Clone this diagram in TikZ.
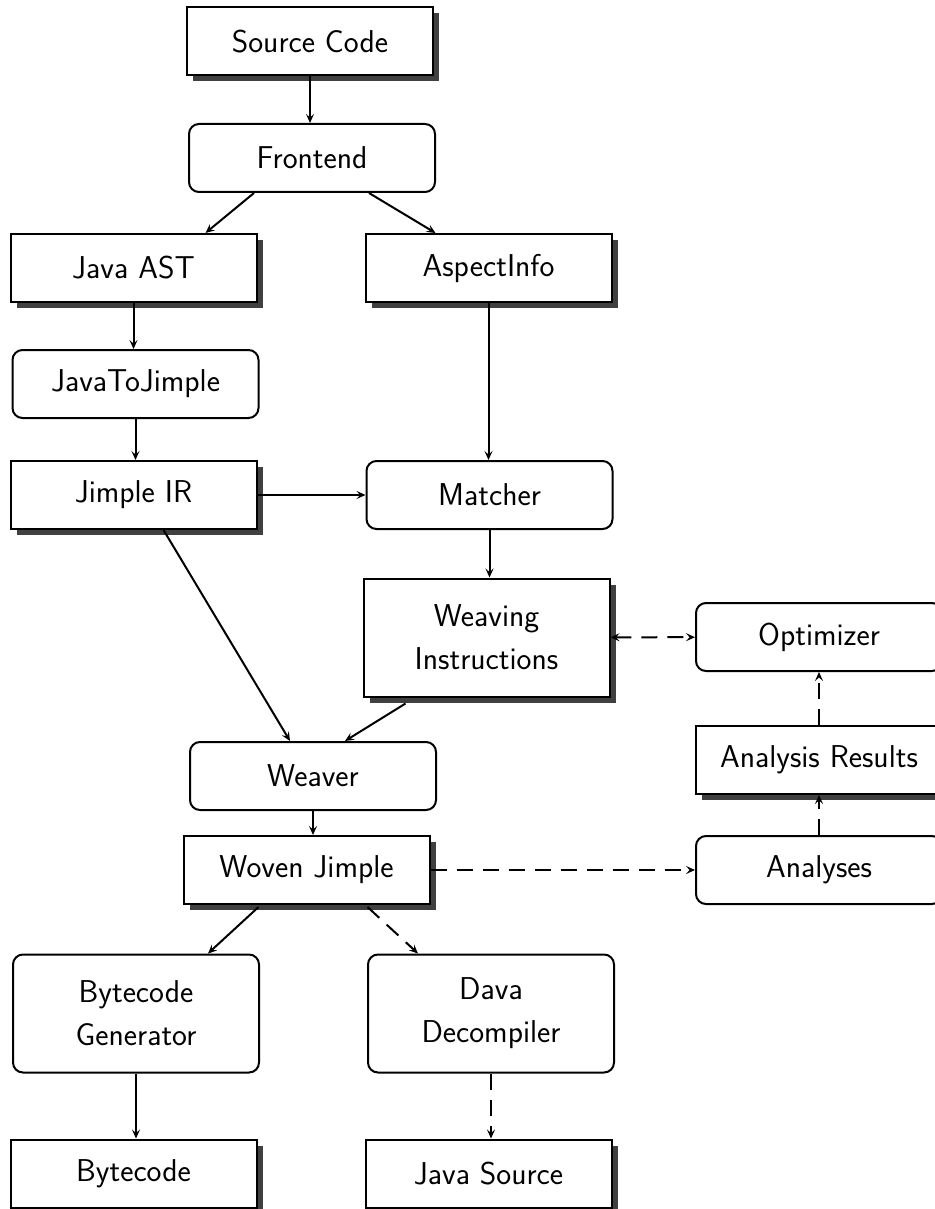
\documentclass[tikz,border=0pt]{standalone}
\usepackage{fontspec}
\usetikzlibrary{shadows,arrows.meta}
\begin{document}
\begin{tikzpicture}[x=0.5pt,y=-0.5pt,
  font=\sffamily\fontsize{15.8}{21.5}\selectfont,
  >={Stealth[length=4.5pt,width=4pt,inset=1.8pt]},
  base/.style={draw, line width=1pt, fill=white, minimum width=123pt,
    minimum height=34pt, align=center, inner sep=4pt},
  data/.style={base, drop shadow={shadow xshift=3pt, shadow yshift=-3pt,
    fill=black!75, opacity=1}},
  proc/.style={base, rounded corners=5pt},
  tall/.style={minimum height=59pt},
  flow/.style={->, line width=1pt},
  dflow/.style={flow, dash pattern=on 8pt off 5pt}]
\useasboundingbox (0,0) rectangle (934,1209);

% left/middle stages of the pipeline
\node[data] (src)    at (310,41.5)    {Source Code};
\node[proc] (front)  at (312,158)     {Frontend};
\node[data] (jast)   at (133.5,268)   {Java AST};
\node[data] (aspect) at (488.5,268)   {AspectInfo};
\node[proc] (j2j)    at (135.5,384)   {JavaToJimple};
\node[data] (jir)    at (133.5,495)   {Jimple IR};
\node[proc] (match)  at (489.5,495)   {Matcher};
\node[data,tall] (weave) at (486.5,637.5) {Weaving\\Instructions};
\node[proc] (weaver) at (313,776)     {Weaver};
\node[data] (woven)  at (306.5,870)   {Woven Jimple};
\node[proc,tall] (bgen) at (136,1013.5) {Bytecode\\Generator};
\node[proc,tall] (dava) at (491,1013.5) {Dava\\Decompiler};
\node[data] (bc)     at (133.5,1173.5) {Bytecode};
\node[data] (jsrc)   at (488.5,1173.5) {Java Source};

% analysis column on the right
\node[proc] (opt)  at (819,637) {Optimizer};
\node[data] (ares) at (819,760) {Analysis Results};
\node[proc] (anal) at (819,870) {Analyses};

% connectors (vertical ones run straight down from the source node)
\draw[flow] (src.south) -- (src.south |- front.north);
\draw[flow] ([xshift=-29pt]front.south) -- ([xshift=36pt]jast.north);
\draw[flow] ([xshift=28.5pt]front.south) -- ([xshift=-26.5pt]aspect.north);
\draw[flow] (jast.south) -- (jast.south |- j2j.north);
\draw[flow] (j2j.south) -- (j2j.south |- jir.north);
\draw[flow] (jir) -- (match);
\draw[flow] (aspect.south) -- (aspect.south |- match.north);
\draw[flow] (match.south) -- (match.south |- weave.north);
\draw[flow] ([xshift=15pt]jir.south) -- ([xshift=-11.5pt]weaver.north);
\draw[flow] ([xshift=-40.5pt,yshift=-3pt]weave.south) -- ([xshift=16pt]weaver.north);
\draw[dflow,<->] (weave) -- (opt);
\draw[flow] (weaver.south) -- (weaver.south |- woven.north);
\draw[dflow] (woven) -- (anal);
\draw[dflow] (anal) -- (ares);
\draw[dflow] (ares) -- (opt);
\draw[flow] ([xshift=-24pt,yshift=-1pt]woven.south) -- ([xshift=36pt]bgen.north);
\draw[dflow] ([xshift=30.5pt,yshift=-1pt]woven.south) -- ([xshift=-36.5pt]dava.north);
\draw[flow] (bgen.south) -- (bgen.south |- bc.north);
\draw[dflow] (dava.south) -- (dava.south |- jsrc.north);
\end{tikzpicture}
\end{document}
